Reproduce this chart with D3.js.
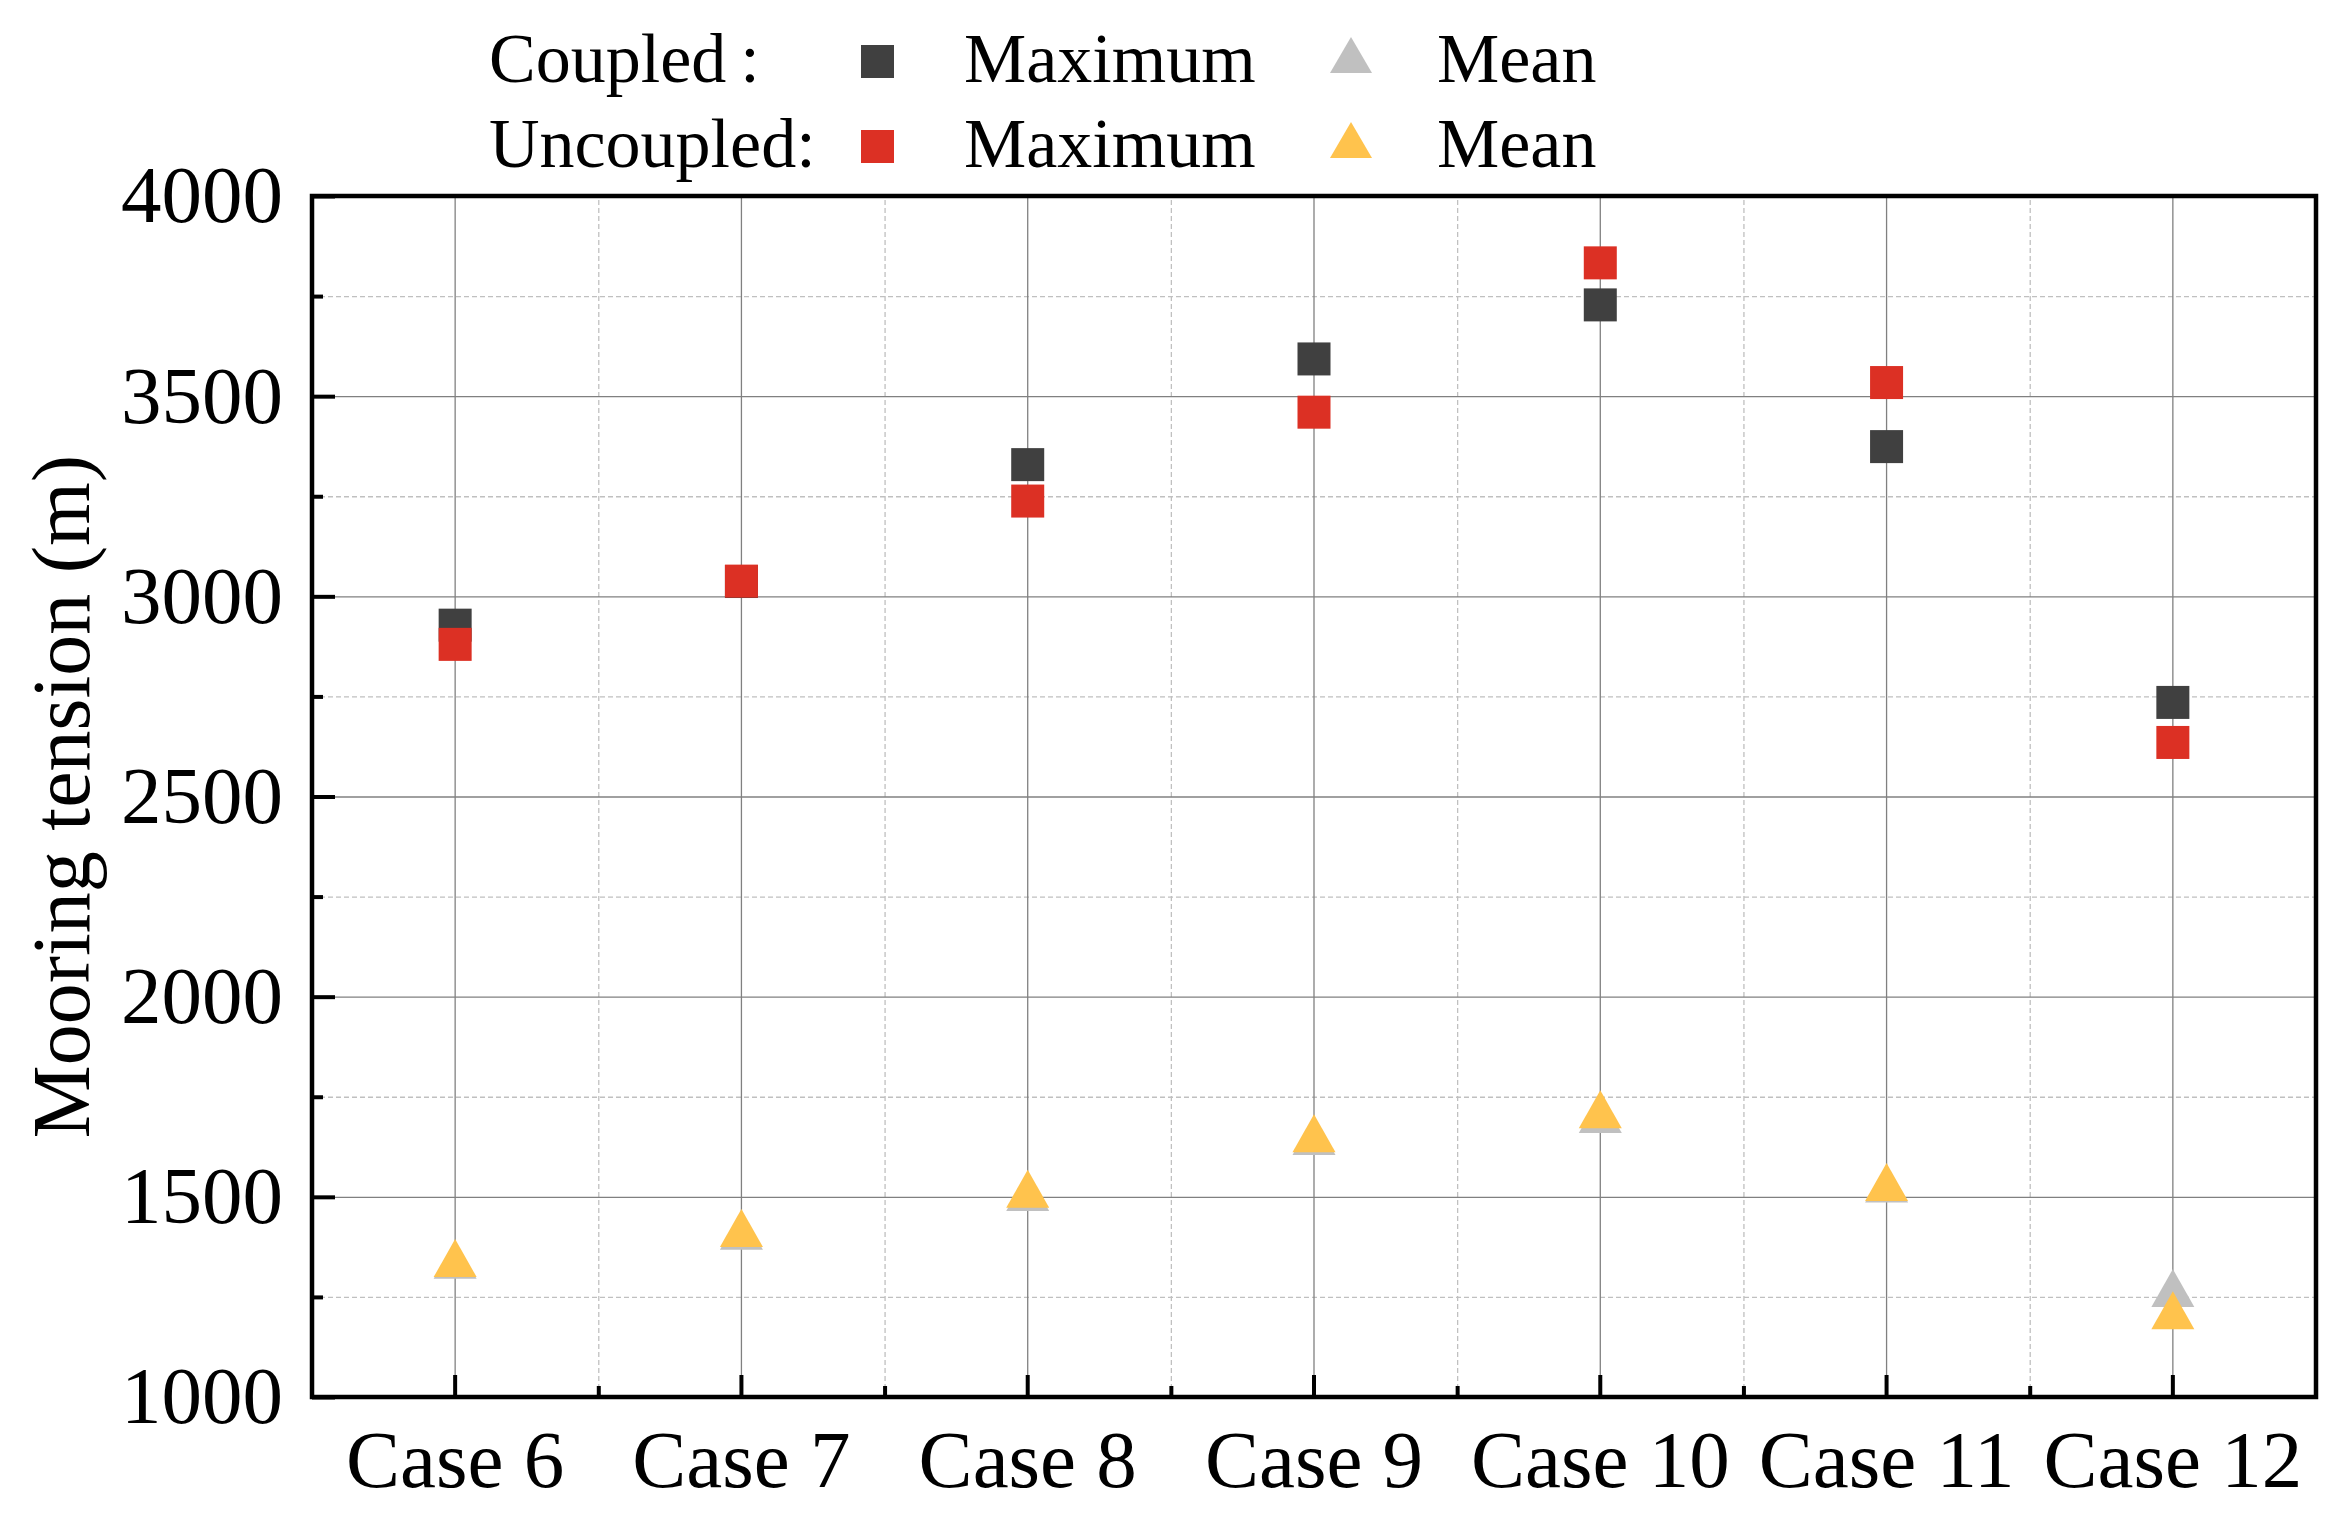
<!DOCTYPE html>
<html>
<head>
<meta charset="utf-8">
<script src="https://cdn.jsdelivr.net/npm/d3@7"></script>
<style>
  body { margin: 0; background: #fff; }
  svg { display: block; font-family: "Liberation Serif", "Times New Roman", serif; }
</style>
</head>
<body>
<div id="chart"></div>
<script>
// ---- data ----
var cases = ["Case 6", "Case 7", "Case 8", "Case 9", "Case 10", "Case 11", "Case 12"];
var coupledMax    = [2928, 3037, 3329, 3593, 3728, 3374, 2735];
var uncoupledMax  = [2880, 3038, 3238, 3460, 3833, 3534, 2635];
var coupledMean   = [1343, 1415, 1512, 1652, 1707, 1533, 1272];
var uncoupledMean = [1347, 1422, 1520, 1659, 1719, 1537, 1217];
var yMajor = [1000, 1500, 2000, 2500, 3000, 3500, 4000];
var yMinor = [1250, 1750, 2250, 2750, 3250, 3750];

var W = 2350, H = 1520;
// plot box (note: "top" is a reserved window prop, so use other names)
var pL = 312, pR = 2316, pT = 196, pB = 1397;

var svg = d3.select("#chart").append("svg")
  .attr("width", W).attr("height", H);

var x = d3.scaleBand().domain(cases).range([pL, pR]).padding(0);
var xEdge = d3.scaleLinear().domain([0, cases.length]).range([pL, pR]);
var y = d3.scaleLinear().domain([1000, 4000]).range([pB, pT]);

// ---- grid ----
function gridLines(g, color, dash) {
  g.select(".domain").remove();
  g.selectAll("line").attr("stroke", color).attr("stroke-width", 1.3)
    .attr("stroke-dasharray", dash);
}
var grid = svg.append("g");
grid.append("g").attr("transform", "translate(0," + pB + ")")
  .call(d3.axisBottom(xEdge).tickValues(d3.range(1, cases.length)).tickSize(-(pB - pT)).tickFormat(""))
  .call(gridLines, "#c0c0c0", "5,3");
grid.append("g").attr("transform", "translate(" + pL + ",0)")
  .call(d3.axisLeft(y).tickValues(yMinor).tickSize(-(pR - pL)).tickFormat(""))
  .call(gridLines, "#c0c0c0", "5,3");
grid.append("g").attr("transform", "translate(0," + pB + ")")
  .call(d3.axisBottom(x).tickSize(-(pB - pT)).tickFormat(""))
  .call(gridLines, "#808080", null);
grid.append("g").attr("transform", "translate(" + pL + ",0)")
  .call(d3.axisLeft(y).tickValues(yMajor.slice(1, -1)).tickSize(-(pR - pL)).tickFormat(""))
  .call(gridLines, "#808080", null);

// ---- markers ----
function tri(cx, cy) {
  return "M" + cx + "," + (cy - 19) + "L" + (cx + 21.5) + "," + (cy + 19) + "L" + (cx - 21.5) + "," + (cy + 19) + "Z";
}
var sq = 33;
function drawSquares(vals, color) {
  svg.append("g").selectAll("rect").data(vals).enter().append("rect")
    .attr("x", function(d, i) { return x(cases[i]) + x.bandwidth() / 2 - sq / 2; })
    .attr("y", function(d) { return y(d) - sq / 2; })
    .attr("width", sq).attr("height", sq)
    .attr("fill", color);
}
function drawTriangles(vals, color) {
  svg.append("g").selectAll("path").data(vals).enter().append("path")
    .attr("d", function(d, i) { return tri(x(cases[i]) + x.bandwidth() / 2, y(d)); })
    .attr("fill", color);
}
drawSquares(coupledMax, "#404040");
drawTriangles(coupledMean, "#c0c0c0");
drawSquares(uncoupledMax, "#dc3024");
drawTriangles(uncoupledMean, "#ffc34d");

// ---- axes (ticks point inward) ----
function axisStyle(g) {
  g.select(".domain").remove();
  g.selectAll(".tick line").attr("stroke", "#000").attr("stroke-width", 4);
  g.selectAll(".tick text").attr("font-size", 81).attr("fill", "#000")
    .attr("font-family", "Liberation Serif, Times New Roman, serif");
}
svg.append("g").attr("transform", "translate(" + pL + ",0)")
  .call(d3.axisLeft(y).tickValues(yMajor).tickSize(-23).tickPadding(29).tickFormat(d3.format("d")))
  .call(axisStyle);
svg.append("g").attr("transform", "translate(" + pL + ",0)")
  .call(d3.axisLeft(y).tickValues(yMinor).tickSize(-11).tickFormat(""))
  .call(axisStyle);
svg.append("g").attr("transform", "translate(0," + pB + ")")
  .call(d3.axisBottom(x).tickSize(-22).tickPadding(32))
  .call(axisStyle);
svg.append("g").attr("transform", "translate(0," + pB + ")")
  .call(d3.axisBottom(xEdge).tickValues(d3.range(1, cases.length)).tickSize(-11).tickFormat(""))
  .call(axisStyle);

// frame
svg.append("rect").attr("x", pL).attr("y", pT)
  .attr("width", pR - pL).attr("height", pB - pT)
  .attr("fill", "none").attr("stroke", "#000").attr("stroke-width", 4.5);

// y title
svg.append("text")
  .attr("transform", "translate(89," + ((pT + pB) / 2) + ") rotate(-90)")
  .attr("text-anchor", "middle").attr("font-size", 82)
  .text("Mooring tension (m)");

// ---- legend ----
var leg = svg.append("g").attr("font-size", 70);
leg.append("text").attr("x", 489).attr("y", 82).text("Coupled\u2009:");
leg.append("text").attr("x", 489).attr("y", 167).text("Uncoupled:");
leg.append("rect").attr("x", 861).attr("y", 45).attr("width", sq).attr("height", sq).attr("fill", "#404040");
leg.append("rect").attr("x", 861).attr("y", 130).attr("width", sq).attr("height", sq).attr("fill", "#dc3024");
leg.append("text").attr("x", 964).attr("y", 82).text("Maximum");
leg.append("text").attr("x", 964).attr("y", 167).text("Maximum");
leg.append("path").attr("d", "M1351,37L1372,73L1330,73Z").attr("fill", "#c0c0c0");
leg.append("path").attr("d", "M1351,122L1372,158L1330,158Z").attr("fill", "#ffc34d");
leg.append("text").attr("x", 1437).attr("y", 82).text("Mean");
leg.append("text").attr("x", 1437).attr("y", 167).text("Mean");
</script>
</body>
</html>
